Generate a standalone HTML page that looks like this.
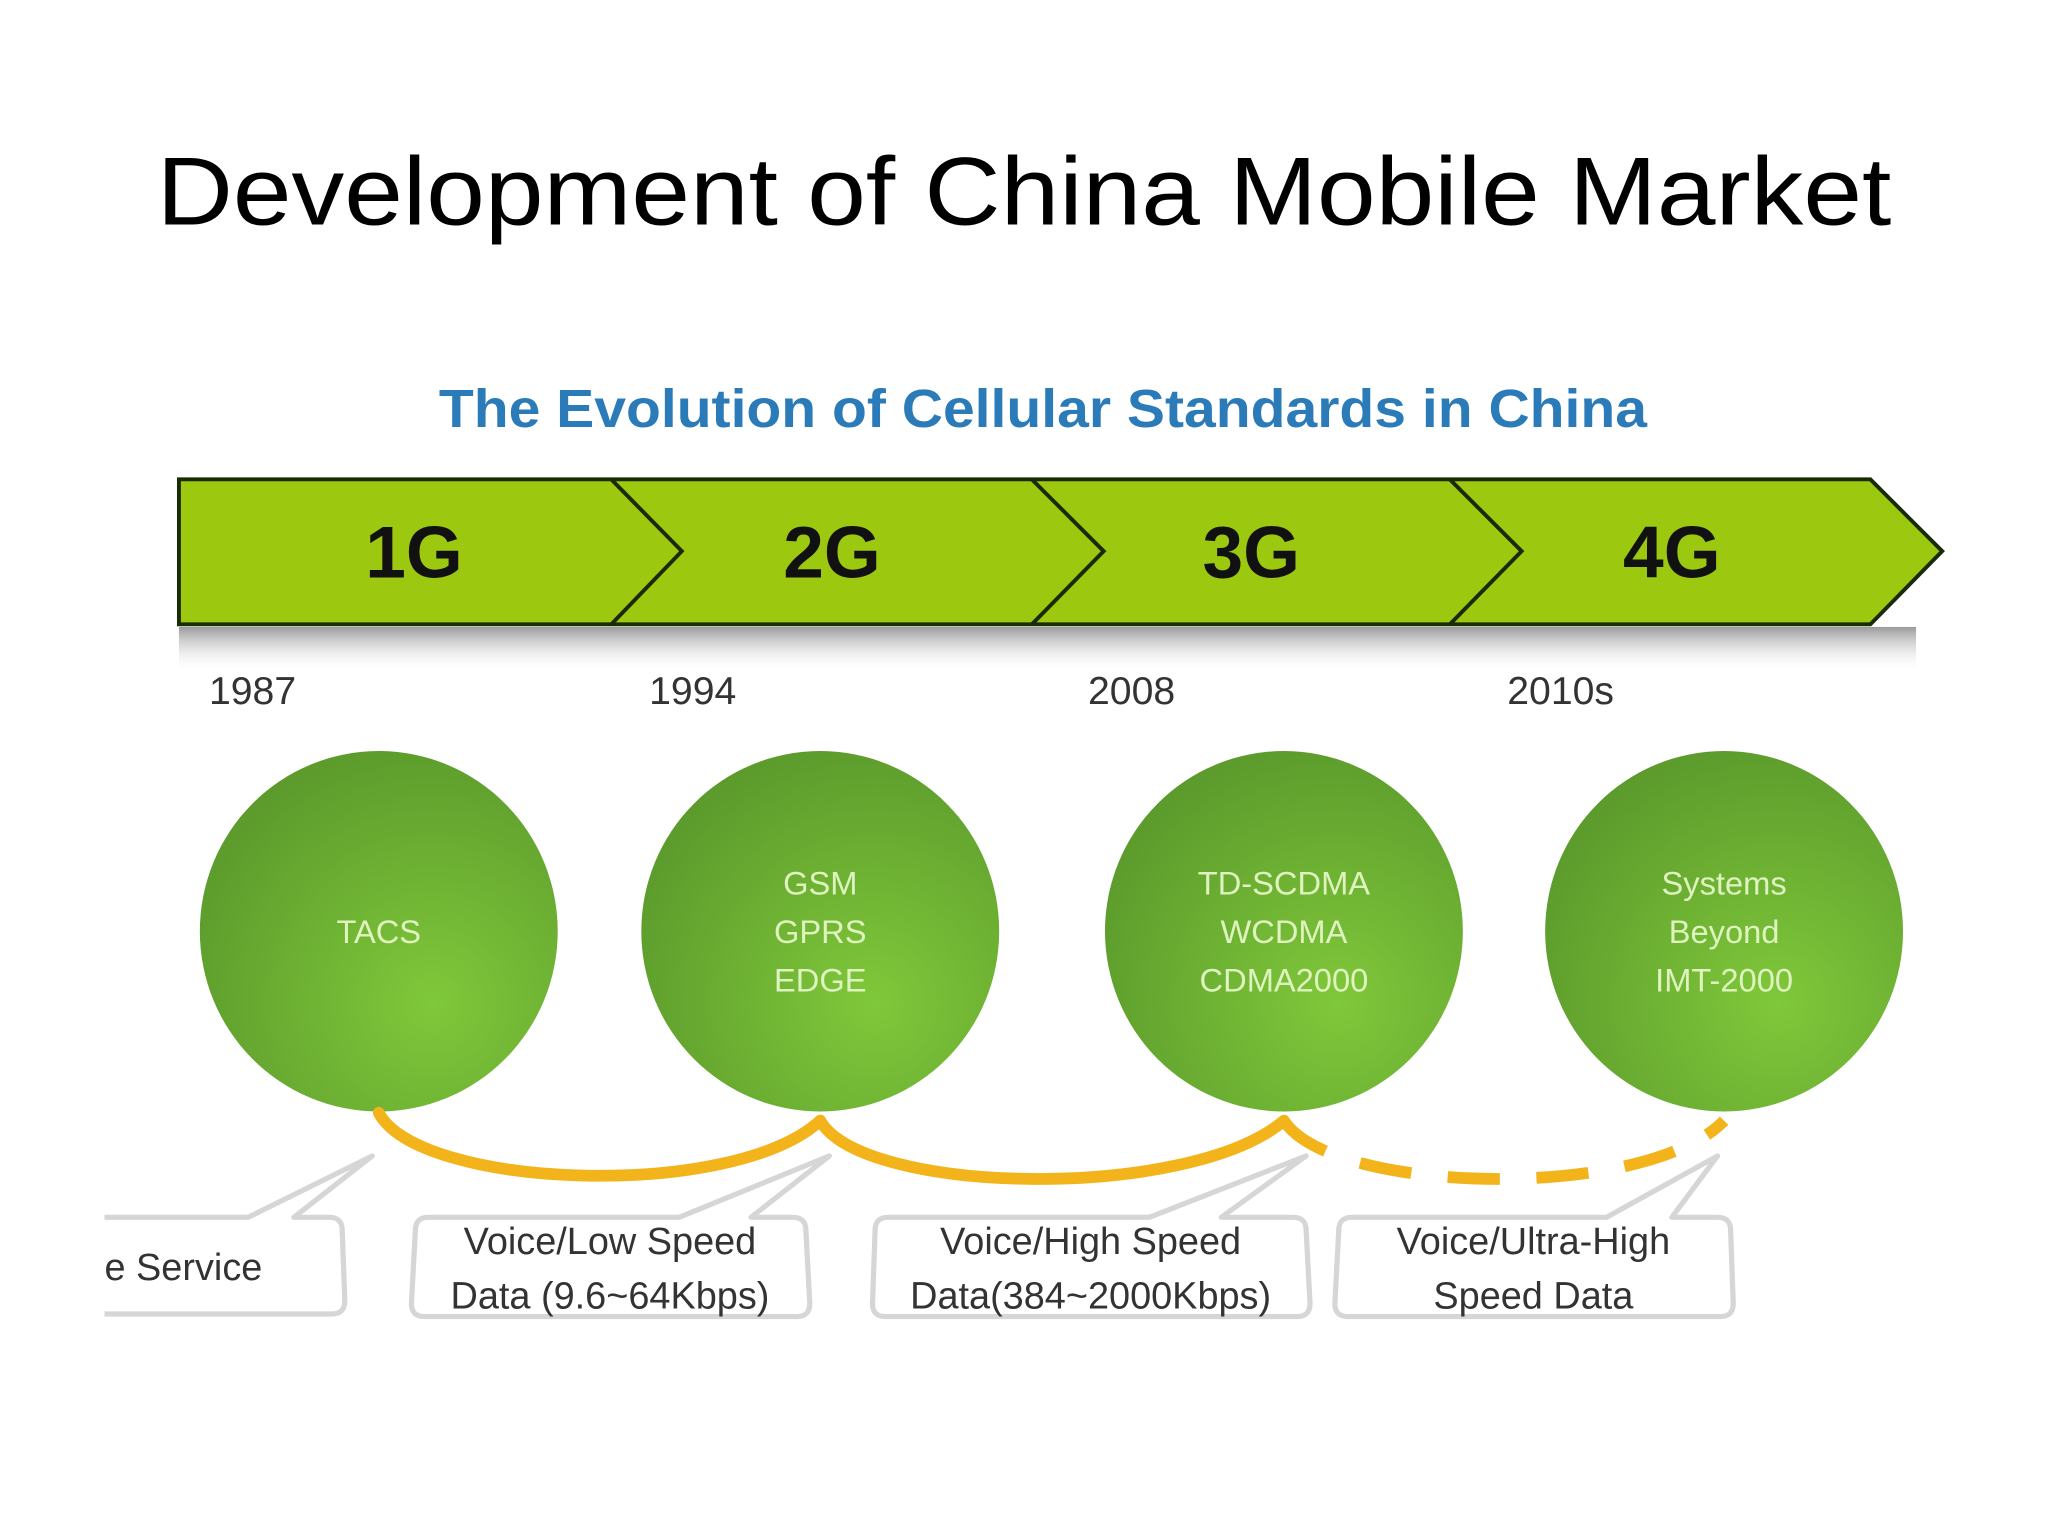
<!DOCTYPE html>
<html><head><meta charset="utf-8"><style>
html,body{margin:0;padding:0;background:#fff;}
svg{display:block;}
</style></head><body>
<svg width="2048" height="1536" viewBox="0 0 1568 1176" xmlns="http://www.w3.org/2000/svg">
<defs>
<radialGradient id="cg" cx="0.65" cy="0.7" r="0.75"><stop offset="0" stop-color="#80c83a"/><stop offset="1" stop-color="#5b9a2c"/></radialGradient>
<linearGradient id="sh" x1="0" y1="0" x2="0" y2="1"><stop offset="0" stop-color="#9a9a9a"/><stop offset="1" stop-color="#ffffff" stop-opacity="0"/></linearGradient>
</defs>
<rect x="0" y="0" width="1568" height="1176" fill="#fff"/>
<text x="120" y="172" textLength="1328" lengthAdjust="spacingAndGlyphs" font-family="Liberation Sans, sans-serif" font-size="74" fill="#000">Development of China Mobile Market</text>
<text x="336" y="327" textLength="925" lengthAdjust="spacingAndGlyphs" font-family="Liberation Sans, sans-serif" font-weight="bold" font-size="41" fill="#2b7bb9">The Evolution of Cellular Standards in China</text>
<rect x="137" y="480" width="1330" height="35" fill="url(#sh)"/>
<g>
<polygon points="137,367 1432,367 1487,422 1432,478 137,478" fill="#9cc90f" stroke="#1b2a06" stroke-width="3"/>
<polyline points="468,367 522,422 468,478" fill="none" stroke="#1b2a06" stroke-width="3"/>
<polyline points="790,367 845,422 790,478" fill="none" stroke="#1b2a06" stroke-width="3"/>
<polyline points="1110,367 1165,422 1110,478" fill="none" stroke="#1b2a06" stroke-width="3"/>
</g>
<g font-family="Liberation Sans, sans-serif" font-weight="bold" font-size="56" fill="#111" text-anchor="middle">
<text x="317" y="442">1G</text>
<text x="637" y="442">2G</text>
<text x="958" y="442">3G</text>
<text x="1280" y="442">4G</text>
</g>
<g font-family="Liberation Sans, sans-serif" font-size="30" fill="#333">
<text x="160" y="539">1987</text>
<text x="497" y="539">1994</text>
<text x="833" y="539">2008</text>
<text x="1154" y="539">2010s</text>
</g>
<g fill="url(#cg)">
<ellipse cx="290" cy="713" rx="137" ry="138"/>
<ellipse cx="628" cy="713" rx="137" ry="138"/>
<ellipse cx="983" cy="713" rx="137" ry="138"/>
<ellipse cx="1320" cy="713" rx="137" ry="138"/>
</g>
<g font-family="Liberation Sans, sans-serif" font-size="25" fill="#dff3bf" text-anchor="middle">
<text x="290" y="722">TACS</text>
<text x="628" y="685">GSM<tspan x="628" dy="37">GPRS</tspan><tspan x="628" dy="37">EDGE</tspan></text>
<text x="983" y="685">TD-SCDMA<tspan x="983" dy="37">WCDMA</tspan><tspan x="983" dy="37">CDMA2000</tspan></text>
<text x="1320" y="685">Systems<tspan x="1320" dy="37">Beyond</tspan><tspan x="1320" dy="37">IMT-2000</tspan></text>
</g>
<g fill="none" stroke="#f2b41a" stroke-width="9" stroke-linecap="round">
<path d="M290,852 C320,910 560,920 628,858"/>
<path d="M628,858 C660,915 910,920 983,858"/>
<path d="M983,858 C1020,915 1260,920 1320,858" stroke-dasharray="40,28" stroke-linecap="butt"/>
</g>
<g fill="#fff" stroke="#d6d6d6" stroke-width="4" stroke-linejoin="round">
<path d="M70,932 L190,932 L285,885 L225,932 L252,932 Q262,932 262,942 L264,996 Q264,1006 254,1006 L70,1006"/>
<path d="M328,932 L520,932 L635,885 L575,932 L607,932 Q617,932 617,942 L620,998 Q620,1008 610,1008 L325,1008 Q315,1008 315,998 L318,942 Q318,932 328,932 Z"/>
<path d="M680,932 L880,932 L1000,885 L935,932 L990,932 Q1000,932 1000,942 L1003,998 Q1003,1008 993,1008 L678,1008 Q668,1008 668,998 L670,942 Q670,932 680,932 Z"/>
<path d="M1035,932 L1230,932 L1315,885 L1280,932 L1315,932 Q1325,932 1325,942 L1327,998 Q1327,1008 1317,1008 L1032,1008 Q1022,1008 1022,998 L1025,942 Q1025,932 1035,932 Z"/>
</g>
<rect x="0" y="880" width="80" height="140" fill="#fff"/>
<g font-family="Liberation Sans, sans-serif" font-size="29" fill="#333" text-anchor="middle">
<text x="80" y="980" text-anchor="start">e Service</text>
<text x="467" y="960">Voice/Low Speed<tspan x="467" dy="42">Data (9.6~64Kbps)</tspan></text>
<text x="835" y="960">Voice/High Speed<tspan x="835" dy="42">Data(384~2000Kbps)</tspan></text>
<text x="1174" y="960">Voice/Ultra-High<tspan x="1174" dy="42">Speed Data</tspan></text>
</g>
</svg>
</body></html>
